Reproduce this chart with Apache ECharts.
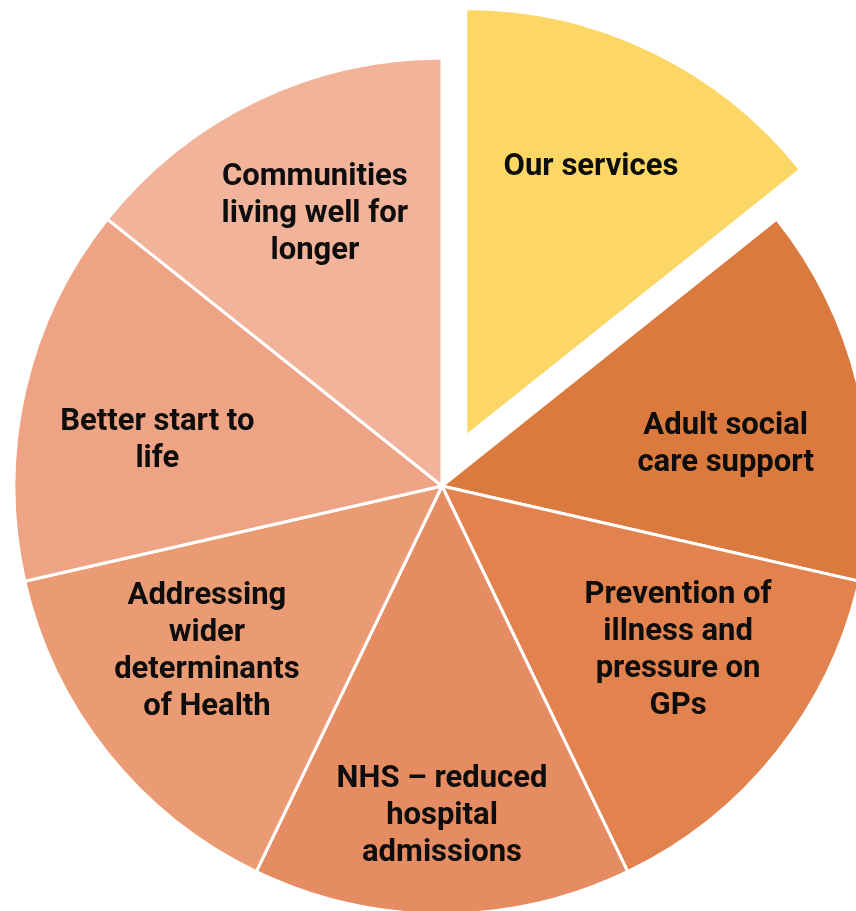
<!DOCTYPE html>
<html>
<head>
<meta charset="utf-8">
<script src="https://cdn.jsdelivr.net/npm/echarts@6/dist/echarts.min.js"></script>
<style>html,body{margin:0;padding:0;background:#fff;}#chart{width:856px;height:911px;}</style>
</head>
<body>
<div id="chart"></div>
<script>
var categories = [
  "Our services",
  "Adult social\ncare support",
  "Prevention of\nillness and\npressure on\nGPs",
  "NHS \u2013 reduced\nhospital\nadmissions",
  "Addressing\nwider\ndeterminants\nof Health",
  "Better start to\nlife",
  "Communities\nliving well for\nlonger"
];
var values = [1, 1, 1, 1, 1, 1, 1];
var colors = ["#FDD766", "#DB7A3F", "#E2834F", "#E68C62", "#EA9B74", "#EEA384", "#F2B39B"];
var labelNudge = [[-2, -5], [-2, 24], [7, -18], [0, 37], [-6, -17], [1, 20], [0, -8]];

var chart = echarts.init(document.getElementById('chart'));
var baseData = categories.map(function (c, i) {
  return { name: c, value: values[i], selected: i === 0, itemStyle: { color: colors[i] } };
});
var labelData = categories.map(function (c, i) {
  return { name: c, value: values[i], selected: i === 0 };
});
chart.setOption({
  animation: false,
  backgroundColor: '#ffffff',
  series: [
    {
      type: 'pie',
      center: [442, 486],
      radius: [0, 428],
      startAngle: 90,
      clockwise: true,
      selectedMode: 'single',
      selectedOffset: 55,
      silent: true,
      label: { show: false },
      labelLine: { show: false },
      itemStyle: { borderColor: '#ffffff', borderWidth: 3 },
      emphasis: { disabled: true },
      data: baseData
    },
    {
      type: 'pie',
      center: [442, 486],
      radius: [152, 428],
      startAngle: 90,
      clockwise: true,
      selectedMode: 'single',
      selectedOffset: 55,
      silent: true,
      z: 5,
      itemStyle: { color: 'rgba(0,0,0,0)', borderWidth: 0 },
      emphasis: { disabled: true },
      labelLine: { show: false },
      label: {
        show: true,
        position: 'inside',
        rotate: 0,
        formatter: '{b}',
        color: '#0d0d0d',
        fontFamily: 'Roboto',
        fontWeight: 'bold',
        fontSize: 31,
        lineHeight: 37,
        align: 'center'
      },
      labelLayout: function (p) {
        var n = labelNudge[p.dataIndex];
        return { dx: n[0], dy: n[1] };
      },
      data: labelData
    }
  ]
});
</script>
</body>
</html>
